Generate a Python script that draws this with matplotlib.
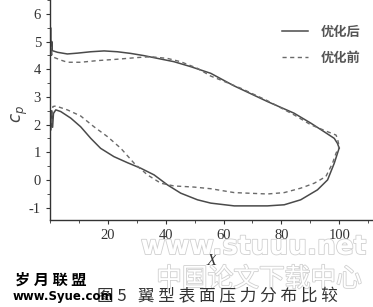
import matplotlib
matplotlib.use("Agg")
import matplotlib.pyplot as plt
import matplotlib.patheffects as pe
from matplotlib.ticker import MultipleLocator

plt.rcParams['font.family'] = ['Liberation Serif', 'Noto Sans CJK SC']

# upper surface, after optimisation (solid)
up_after_x = [0.0, 0.2, 0.4, 0.6, 0.8, 2.6, 6.0, 9.5, 14.1, 18.7, 23.3, 27.9, 32.5,
              37.2, 42.9, 48.7, 55.6, 63.6, 75.2, 84.4, 90.2, 94.8, 98.3, 99.4, 100.0]
up_after_y = [4.5, 5.5, 4.5, 5.0, 4.67, 4.61, 4.55, 4.58, 4.63, 4.66, 4.63, 4.57, 4.49,
              4.39, 4.27, 4.09, 3.85, 3.40, 2.83, 2.41, 2.05, 1.74, 1.50, 1.32, 1.15]
# lower surface, after optimisation (solid)
lo_after_x = [0.0, 0.3, 0.6, 0.9, 1.2, 2.0, 3.7, 7.2, 10.6, 14.1, 17.5, 22.1, 26.8, 31.4,
              36.0, 40.6, 45.2, 51.0, 55.6, 63.7, 75.2, 81.0, 86.7, 92.5, 96.0, 98.3, 100.0]
lo_after_y = [2.6, 1.8, 2.5, 1.9, 2.4, 2.53, 2.47, 2.23, 1.92, 1.50, 1.14, 0.84, 0.62, 0.42,
              0.18, -0.18, -0.48, -0.72, -0.84, -0.94, -0.94, -0.90, -0.72, -0.36, 0.0, 0.60, 1.15]
# upper surface, before optimisation (dashed)
up_before_x = [0.0, 0.4, 0.8, 3.7, 6.0, 10.6, 16.4, 23.3, 30.2, 34.8, 40.6, 45.2, 51.0,
               55.6, 59.0, 66.0, 75.2, 84.4, 90.2, 96.0, 98.9, 99.4, 100.0]
up_before_y = [4.4, 4.8, 4.45, 4.33, 4.25, 4.25, 4.31, 4.36, 4.42, 4.45, 4.39, 4.27, 4.03,
               3.75, 3.61, 3.31, 2.86, 2.35, 1.99, 1.74, 1.62, 1.50, 1.2]
# lower surface, before optimisation (dashed)
lo_before_x = [0.0, 0.5, 1.0, 2.0, 6.0, 10.6, 15.2, 19.9, 24.5, 29.1, 33.7, 38.3, 42.9,
               49.8, 55.6, 63.7, 75.2, 81.0, 86.7, 91.4, 95.4, 97.7, 98.9, 100.0]
lo_before_y = [2.5, 2.0, 2.65, 2.67, 2.53, 2.31, 1.92, 1.56, 1.14, 0.60, 0.18, -0.12, -0.22,
               -0.26, -0.32, -0.46, -0.51, -0.46, -0.30, -0.12, 0.12, 0.60, 0.96, 1.2]

y_ticks = [-1, 0, 1, 2, 3, 4, 5, 6]
x_ticks = [20, 40, 60, 80, 100]

fig = plt.figure(figsize=(3.73, 3.07), dpi=100)
ax = fig.add_axes([50 / 373, 87 / 307, 323 / 373, 220 / 307])

line_col = '#4a4a4a'
ax.plot(up_after_x, up_after_y, color=line_col, lw=1.1, label='优化后')
ax.plot(lo_after_x, lo_after_y, color=line_col, lw=1.1)
ax.plot(up_before_x, up_before_y, color='#6a6a6a', lw=1.0, ls=(0, (3, 2.5)), label='优化前')
ax.plot(lo_before_x, lo_before_y, color='#6a6a6a', lw=1.0, ls=(0, (3, 2.5)))

ax.set_xlim(0, 111.7)
ax.set_ylim(-1.45, 6.5)
ax.set_xticks(x_ticks)
ax.set_yticks(y_ticks)
ax.set_yticklabels([str(v) for v in y_ticks])
ax.xaxis.set_minor_locator(MultipleLocator(10))
ax.yaxis.set_minor_locator(MultipleLocator(0.5))
ax.tick_params(direction='out', length=3, width=0.8, labelsize=10.5, colors='#333333')
ax.tick_params(which='minor', direction='out', length=2, width=0.6, colors='#333333')
for s in ['top', 'right']:
    ax.spines[s].set_visible(False)
for s in ['left', 'bottom']:
    ax.spines[s].set_color('#333333')
    ax.spines[s].set_linewidth(1.0)

ax.set_xlabel('X', fontstyle='italic', fontsize=12, labelpad=8, color='#333333')
fig.text(0.025, 0.63, '$c_p$', rotation=90, fontsize=12, color='#444444', va='center')

leg = ax.legend(loc='upper left', bbox_to_anchor=(0.68, 0.94), frameon=False,
                handlelength=2.0, handletextpad=1.0, labelspacing=0.9,
                prop={'family': 'Noto Sans CJK SC', 'weight': 'bold', 'size': 9.5})
for t in leg.get_texts():
    t.set_color('#555555')

# watermarks from the scanned page
wm = [pe.withStroke(linewidth=1.2, foreground='#d0d0d0')]
fig.text(0.68, 0.195, 'www.stuuu.net', fontsize=19, family='DejaVu Sans', weight='bold',
         color='white', ha='center', va='center', path_effects=wm)
fig.text(0.695, 0.09, '中国论文下载中心', fontsize=18.5, family='Noto Sans CJK SC',
         color='white', ha='center', va='center', path_effects=wm)

fig.text(0.26, 0.033, '图 5   翼 型 表 面 压 力 分 布 比 较', fontsize=12,
         family='Noto Sans CJK SC', color='#333333', va='center')
fig.text(0.04, 0.09, '岁 月 联 盟', fontsize=11, family='Noto Sans CJK SC',
         weight='bold', color='black', va='center')
fig.text(0.035, 0.035, 'www.Syue.com', fontsize=8.5, family='DejaVu Sans',
         weight='bold', color='black', va='center')

fig.savefig('out.png', dpi=100)
